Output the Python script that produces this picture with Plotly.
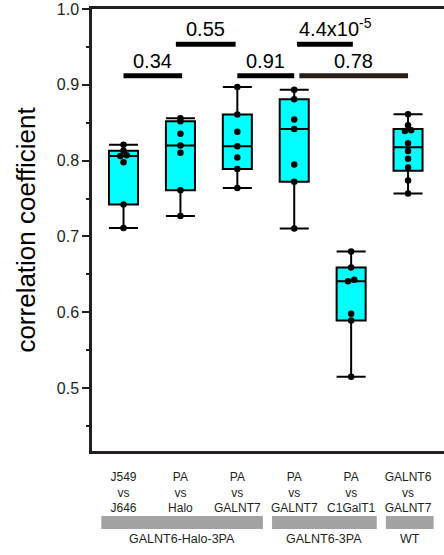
import numpy as np
import plotly.graph_objects as go

# ---------------- data ----------------
categories = ["J549<br>vs<br>J646", "PA<br>vs<br>Halo", "PA<br>vs<br>GALNT7",
              "PA<br>vs<br>GALNT7", "PA<br>vs<br>C1GalT1", "GALNT6<br>vs<br>GALNT7"]
j549_vs_j646 = [0.711, 0.742, 0.798, 0.806, 0.807, 0.813, 0.821]
pa_vs_halo = [0.727, 0.761, 0.8105, 0.820, 0.8355, 0.852, 0.856]
pa_vs_galnt7_halo = [0.764, 0.789, 0.804, 0.819, 0.838, 0.861, 0.897]
pa_vs_galnt7_3pa = [0.7105, 0.772, 0.795, 0.8416, 0.8543, 0.881, 0.8936]
pa_vs_c1galt1 = [0.515, 0.589, 0.598, 0.641, 0.643, 0.659, 0.680]
galnt6_vs_galnt7_wt = [0.7566, 0.7737, 0.7908, 0.8026, 0.8126, 0.8228, 0.839, 0.840, 0.8468, 0.8613]
series = [j549_vs_j646, pa_vs_halo, pa_vs_galnt7_halo, pa_vs_galnt7_3pa, pa_vs_c1galt1, galnt6_vs_galnt7_wt]

group_names = ["GALNT6-Halo-3PA", "GALNT6-3PA", "WT"]
group_first = [0, 3, 5]
group_last = [2, 4, 5]

p_labels = ["0.34", "0.55", "0.91", "4.4x10<sup>-5</sup>", "0.78"]
p_from = [0, 1, 2, 3, 3]
p_to = [1, 2, 3, 4, 5]

# ---------------- styling ----------------
INK = "#231f20"
FONT = "Liberation Sans, Arial, sans-serif"

pos = np.arange(len(series))
q1, med, q3, lo, hi = [], [], [], [], []
for s in series:
    a = np.array(s)
    q1.append(float(np.percentile(a, 25, method="weibull")))
    med.append(float(np.percentile(a, 50, method="weibull")))
    q3.append(float(np.percentile(a, 75, method="weibull")))
    lo.append(float(a.min()))
    hi.append(float(a.max()))

fig = go.Figure()
fig.add_trace(go.Box(
    x=pos, q1=q1, median=med, q3=q3, lowerfence=lo, upperfence=hi,
    orientation="v", boxpoints=False, width=0.51, whiskerwidth=1,
    fillcolor="#00FFFF", line=dict(color="#000000", width=2),
    showlegend=False, hoverinfo="skip"))

# dots: near-equal values within a box are spread side by side
px, py = [], []
for i, s in enumerate(series):
    vals = sorted(s)
    j = 0
    while j < len(vals):
        k = j
        while k + 1 < len(vals) and vals[k + 1] - vals[j] < 0.0035:
            k += 1
        n = k - j + 1
        for m in range(n):
            off = (m - (n - 1) / 2) * 0.11
            px.append(i + off)
            py.append(vals[j + m])
        j = k + 1
fig.add_trace(go.Scatter(x=px, y=py, mode="markers",
                         marker=dict(color="#000000", size=6.5),
                         showlegend=False, hoverinfo="skip"))

# significance bars
bar_adj = [(0.0, 0.03), (-0.08, -0.03), (0.0, 0.0), (0.05, 0.03), (0.09, 0.0)]
low_lvl, high_lvl = 0.912, 0.9535
levels = [low_lvl, high_lvl, low_lvl, high_lvl, low_lvl]
bar_colors = ["#000000", "#000000", "#000000", "#000000", "#2a1c19"]
for lab, a, b, (da, db), lv, col in zip(p_labels, p_from, p_to, bar_adj, levels, bar_colors):
    x0, x1 = a + da, b + db
    fig.add_shape(type="line", xref="x", yref="y", x0=x0, x1=x1, y0=lv, y1=lv,
                  line=dict(color=col, width=5), layer="above")
    if "sup" in lab:
        fig.add_annotation(x=x0, y=lv, xref="x", yref="y", text=lab, showarrow=False,
                           xanchor="left", yanchor="bottom", yshift=2,
                           font=dict(family=FONT, size=20, color="#000000"))
    else:
        fig.add_annotation(x=(x0 + x1) / 2, y=lv, xref="x", yref="y", text=lab, showarrow=False,
                           xanchor="center", yanchor="bottom", yshift=2,
                           font=dict(family=FONT, size=20, color="#000000"))

# group bars and labels under the axis
for name, f, l in zip(group_names, group_first, group_last):
    fig.add_shape(type="rect", xref="x", yref="paper", x0=f - 0.39, x1=l + 0.45,
                  y0=-0.1765, y1=-0.1471, fillcolor="#a3a3a3", line=dict(width=0),
                  layer="above")
    fig.add_annotation(x=(f - 0.39 + l + 0.45) / 2, y=-0.199, xref="x", yref="paper",
                       text=name, showarrow=False, xanchor="center", yanchor="middle",
                       font=dict(family=FONT, size=12.5, color=INK))

fig.update_layout(
    width=444, height=555,
    margin=dict(l=92, r=0, t=9, b=104),
    plot_bgcolor="white", paper_bgcolor="white",
    font=dict(family=FONT, color=INK),
    xaxis=dict(range=[-0.554, 5.632], showline=True, mirror=True, linecolor=INK,
               linewidth=2.5, ticks="", tickvals=list(pos), ticktext=categories,
               tickfont=dict(family=FONT, size=12, color=INK), showgrid=False,
               zeroline=False, ticklabelstandoff=13),
    yaxis=dict(range=[0.417, 1.0], showline=True, mirror=False, linecolor=INK,
               linewidth=2.5, ticks="outside", ticklen=7, tickwidth=1.5, tickcolor=INK,
               tick0=0, dtick=0.1, tickformat=".1f",
               tickfont=dict(family=FONT, size=16, color=INK),
               minor=dict(tick0=0, dtick=0.05, ticks="outside", ticklen=3.5,
                          tickwidth=1.5, tickcolor=INK),
               showgrid=False, zeroline=False,
               title=dict(text="correlation coefficient", standoff=14,
                          font=dict(family=FONT, size=26, color="#000000"))),
)

fig.write_html("out.html")
